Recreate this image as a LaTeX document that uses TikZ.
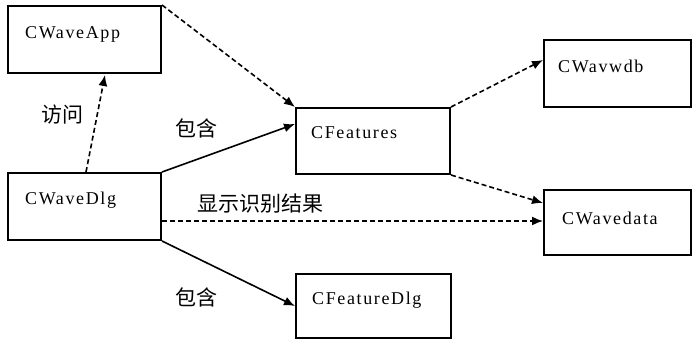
\documentclass[tikz,border=0pt]{standalone}
\usepackage{fontspec}
\setmainfont{Liberation Serif}[LetterSpace=9]
\newfontfamily\cjk{Noto Sans CJK SC}
\usetikzlibrary{arrows.meta,calc}
\begin{document}
\begin{tikzpicture}[x=1pt,y=-1pt,
  box/.style={draw,line width=2pt,anchor=north west,inner sep=0pt},
  lbl/.style={anchor=west,inner sep=0pt,font=\fontsize{18}{20}\selectfont},
  cn/.style={anchor=west,inner sep=0pt,font=\cjk\fontsize{21}{23}\selectfont},
  conn/.style={line width=1.6pt,-{Latex[length=11pt,width=9pt]}},
  dconn/.style={conn,dash pattern=on 5pt off 3pt}]
\useasboundingbox (0,0) rectangle (693,340);
% boxes
\node[box,minimum width=153pt,minimum height=67pt] (app) at (7,5) {};
\node[box,minimum width=154pt,minimum height=66pt] (feat) at (295,107) {};
\node[box,minimum width=147pt,minimum height=67pt] (wdb) at (543,39) {};
\node[box,minimum width=153pt,minimum height=67pt] (dlg) at (7,172) {};
\node[box,minimum width=147pt,minimum height=65pt] (data) at (543,189) {};
\node[box,minimum width=155pt,minimum height=64pt] (fdlg) at (295,273) {};
% box texts
\node[lbl] (tapp) at (25,34) {CWaveApp};
\node[lbl] (tfeat) at (311,133) {CFeatures};
\node[lbl] (twdb) at (558,66) {CWavwdb};
\node[lbl] (tdlg) at (25,200) {CWaveDlg};
\node[lbl] (tdata) at (562,218) {CWavedata};
\node[lbl] (tfdlg) at (312,300) {CFeatureDlg};
% connector labels
\node[cn] (l1) at (41,115) {访问};
\node[cn] (l2) at (175,128) {包含};
\node[cn] (l3) at (197,204) {显示识别结果};
\node[cn] (l4) at (175,297) {包含};
% connectors
\draw[dconn] (app.north east) -- (feat.north west);
\draw[dconn] ($(dlg.north west)+(79,0)$) -- ($(app.south west)+(98,1)$);
\draw[conn] (dlg.north east) -- ($(feat.north west)+(0,17)$);
\draw[dconn] (feat.north east) -- ($(wdb.north west)+(0,21)$);
\draw[dconn] (feat.south east) -- ($(data.north west)+(0,14)$);
\draw[dconn] ($(dlg.north east)+(0,49)$) -- ($(data.north west)+(0,32)$);
\draw[conn] (dlg.south east) -- ($(fdlg.north west)+(0,33)$);
\end{tikzpicture}
\end{document}
